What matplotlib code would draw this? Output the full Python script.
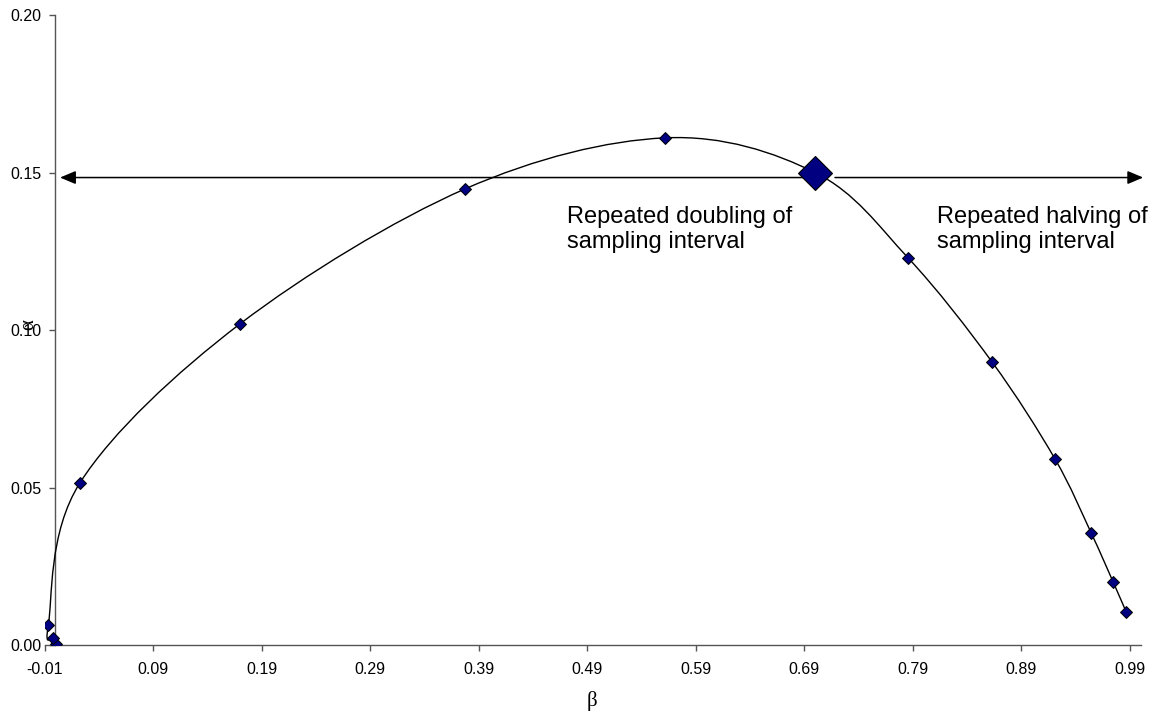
import numpy as np
import matplotlib.pyplot as plt
from matplotlib.path import Path
from matplotlib.patches import PathPatch

# data (beta, alpha), in series order
beta = [0.0003, -0.0019, -0.0065, 0.0227, 0.170, 0.3776, 0.562, 0.700,
        0.7858, 0.8633, 0.9213, 0.9545, 0.9748, 0.9868]
alpha = [0.0003, 0.0022, 0.0063, 0.0515, 0.1019, 0.1448, 0.161, 0.150,
         0.1229, 0.0898, 0.0590, 0.0356, 0.0200, 0.0105]
# highlighted point
beta_hl = [0.700]
alpha_hl = [0.150]

xticks = [-0.01, 0.09, 0.19, 0.29, 0.39, 0.49, 0.59, 0.69, 0.79, 0.89, 0.99]
yticks = [0.00, 0.05, 0.10, 0.15, 0.20]

plt.rcParams['font.family'] = ['Liberation Sans', 'DejaVu Sans']

fig = plt.figure(figsize=(11.55, 7.21), dpi=100)
ax = fig.add_axes([44.5 / 1155, 76 / 721, 1096 / 1155, 630 / 721])
ax.set_xlim(-0.01, 1.0)
ax.set_ylim(0, 0.20)

# smoothed line (Bezier, like the spreadsheet's smooth option)
pts = np.column_stack([beta, alpha])
verts = [pts[0]]
codes = [Path.MOVETO]
n = len(pts)
for i in range(n - 1):
    p0 = pts[i - 1] if i > 0 else pts[i]
    p1 = pts[i]
    p2 = pts[i + 1]
    p3 = pts[i + 2] if i + 2 < n else pts[i + 1]
    c1 = p1 + (p2 - p0) / 6
    c2 = p2 - (p3 - p1) / 6
    verts += [c1, c2, p2]
    codes += [Path.CURVE4] * 3
ax.add_patch(PathPatch(Path(verts, codes), fill=False, color='black', lw=1.0, zorder=3))

ax.plot(beta, alpha, ls='none', marker='D', ms=6, mfc='#000080', mec='black', mew=0.7, zorder=4)
ax.plot(beta_hl, alpha_hl, ls='none', marker='D', ms=17, mfc='#000080', mec='black', mew=0.8, zorder=5)

# arrows
arrow = dict(arrowstyle='-|>,head_length=0.95,head_width=0.4', mutation_scale=10,
             color='black', lw=1.1, shrinkA=0, shrinkB=0)
ax.annotate('', xy=(0.0043, 0.1484), xytext=(0.69, 0.1484), arrowprops=arrow, annotation_clip=False)
ax.annotate('', xy=(1.0025, 0.1484), xytext=(0.7185, 0.1484), arrowprops=arrow, annotation_clip=False)

ax.text(0.4715, 0.1260, 'Repeated doubling of\nsampling interval', fontsize=17, va='baseline', ha='left')
ax.text(0.8125, 0.1260, 'Repeated halving of\nsampling interval', fontsize=17, va='baseline', ha='left')

for s in ['top', 'right']:
    ax.spines[s].set_visible(False)
ax.spines['left'].set_position(('data', 0))
for s in ['left', 'bottom']:
    ax.spines[s].set_color('#555555')
    ax.spines[s].set_linewidth(1.0)

ax.set_xticks(xticks)
ax.set_xticklabels(['%.2f' % v for v in xticks])
ax.set_yticks(yticks)
ax.set_yticklabels(['%.2f' % v for v in yticks])
ax.tick_params(axis='both', direction='out', length=4, width=1, color='#555555', labelsize=11.5)
ax.tick_params(axis='x', pad=8)
ax.tick_params(axis='y', pad=6)

fig.text(592 / 1155, 1 - 701 / 721, 'β', family='Liberation Serif', fontsize=15, ha='center', va='center')
fig.text(29 / 1155, 1 - 325 / 721, 'α', family='Liberation Serif', fontsize=15, ha='center', va='center', rotation=90)

fig.savefig('out.png', dpi=100)
